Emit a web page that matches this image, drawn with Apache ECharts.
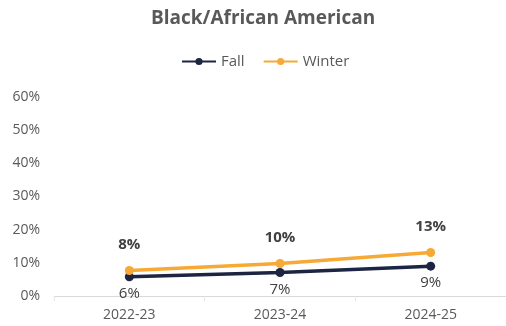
<!DOCTYPE html>
<html>
<head>
<meta charset="utf-8">
<script src="https://cdn.jsdelivr.net/npm/echarts@6/dist/echarts.min.js"></script>
<style>
  html, body { margin: 0; padding: 0; background: #fff; }
  #main { width: 506px; height: 326px; }
</style>
</head>
<body>
<div id="main"></div>
<script>
// data
var categories = ['2022-23', '2023-24', '2024-25'];
var fallValues = [5.8, 7.1, 9.0];
var winterValues = [7.7, 9.8, 13.1];
var yTicks = [0, 10, 20, 30, 40, 50, 60];

var font = 'Open Sans, Liberation Sans, sans-serif';

var myChart = echarts.init(document.getElementById('main'));
var option = {
  animation: false,
  textStyle: { fontFamily: font },
  title: {
    text: 'Black/African American',
    left: 146,
    top: 4,
    textStyle: { fontSize: 19, fontWeight: 'bold', color: '#595959', fontFamily: font }
  },
  legend: {
    top: 49,
    left: 176,
    itemWidth: 34,
    itemHeight: 9,
    itemGap: 18,
    textStyle: { fontSize: 15, color: '#595959' },
    data: ['Fall', 'Winter']
  },
  grid: { left: 54, right: 0, top: 97, bottom: 30 },
  xAxis: {
    type: 'category',
    data: categories,
    axisLine: { lineStyle: { color: '#d9d9d9' } },
    axisTick: { show: true, length: 5, lineStyle: { color: '#e6e6e6' } },
    axisLabel: { color: '#595959', fontSize: 14, margin: 12 }
  },
  yAxis: {
    type: 'value',
    min: yTicks[0],
    max: yTicks[yTicks.length - 1],
    interval: 10,
    splitLine: { show: false },
    axisLine: { show: false },
    axisTick: { show: false },
    axisLabel: { color: '#595959', fontSize: 14, margin: 14, formatter: '{value}%' }
  },
  series: [
    {
      name: 'Fall',
      type: 'line',
      data: fallValues,
      symbol: 'circle',
      symbolSize: 9,
      lineStyle: { color: '#1c2541', width: 3.5 },
      itemStyle: { color: '#1c2541' },
      label: {
        show: true,
        position: 'bottom',
        distance: 5,
        color: '#404040',
        fontSize: 15,
        formatter: function (p) { return Math.round(p.value) + '%'; }
      }
    },
    {
      name: 'Winter',
      type: 'line',
      data: winterValues,
      symbol: 'circle',
      symbolSize: 9,
      lineStyle: { color: '#f7a935', width: 3.5 },
      itemStyle: { color: '#f7a935' },
      label: {
        show: true,
        position: 'top',
        distance: 14,
        color: '#404040',
        fontSize: 15,
        fontWeight: 'bold',
        formatter: function (p) { return Math.round(p.value) + '%'; }
      }
    }
  ]
};
option && myChart.setOption(option);
</script>
</body>
</html>
